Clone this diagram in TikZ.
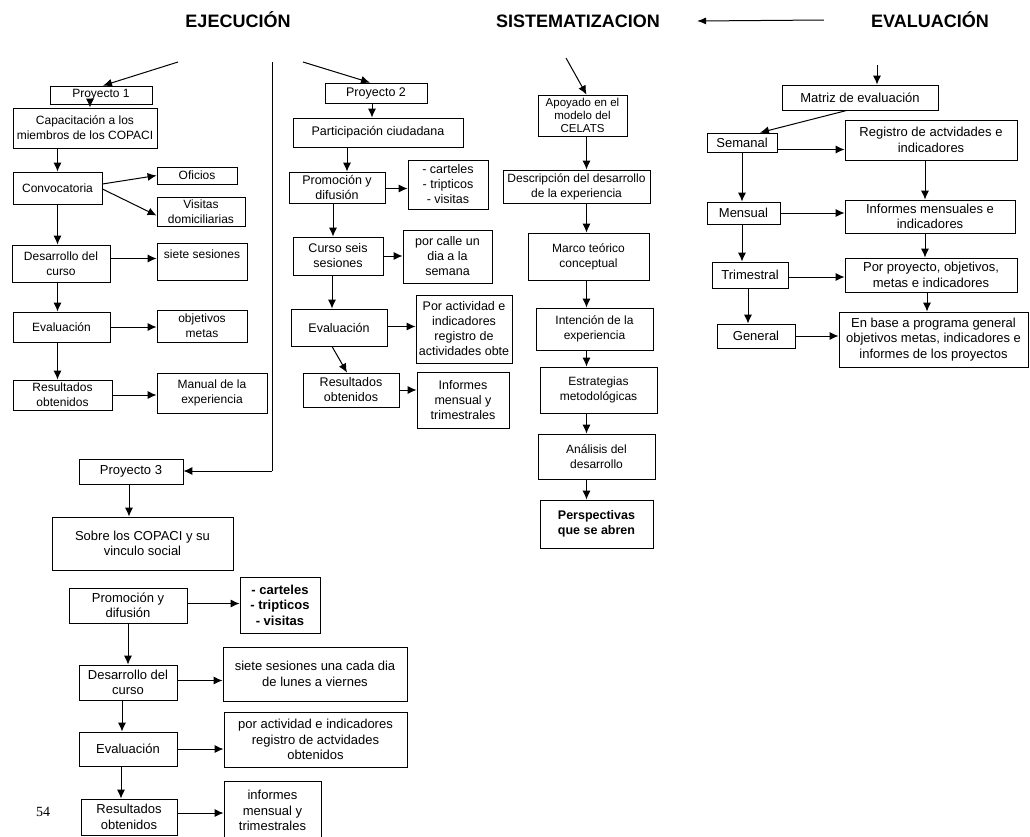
\documentclass[tikz,border=0pt]{standalone}
\usepackage{fontspec}
\setmainfont{Liberation Sans}
\newfontfamily\pagenumfont{Liberation Serif}
\usetikzlibrary{arrows.meta}
\tikzset{
  bx/.style={draw, line width=0.8pt, inner sep=0pt, align=center, font=\fontsize{12}{15}\selectfont},
  fA/.style={font=\fontsize{13}{15.5}\selectfont},
  fB/.style={font=\fontsize{12.5}{15}\selectfont},
  fC/.style={font=\fontsize{12}{15}\selectfont},
  fT/.style={font=\fontsize{11.5}{13}\selectfont},
  bbx/.style={font=\fontsize{13}{15.5}\selectfont\bfseries},
  bbc/.style={font=\fontsize{12.5}{15.5}\selectfont\bfseries},
  con/.style={line width=1pt, -{Latex[length=9pt,width=8pt]}},
  ttl/.style={font=\fontsize{18}{20}\selectfont\bfseries, inner sep=0pt},
}
\newcommand\mybox[7][]{%
  \pgfmathsetmacro\mybw{#5-#3}%
  \pgfmathsetmacro\mybh{#6-#4}%
  \pgfmathsetmacro\mycx{(#3+#5)/2}%
  \pgfmathsetmacro\mycy{(#4+#6)/2}%
  \node[bx,minimum width=\mybw pt,minimum height=\mybh pt,#1] (#2) at (\mycx,\mycy) {#7};}
\begin{document}
\begin{tikzpicture}[x=1pt,y=-1pt]
\useasboundingbox (0,0) rectangle (1030,836);
\fill[white] (0,0) rectangle (1030,836);

% titles
\node[ttl] (tEje) at (238,20) {EJECUCIÓN};
\node[ttl] (tSis) at (578,21) {SISTEMATIZACION};
\node[ttl] (tEva) at (930,20) {EVALUACIÓN};
\draw[line width=1pt, -{Latex[length=9pt,width=7pt]}] ([xshift=-47pt]tEva.west) -- ([xshift=37pt]tSis.east);

% ---------- column 1 ----------
\coordinate (a1) at (178,62);
\mybox{p1}{50}{86}{152}{104}{Proyecto 1}
\mybox{cap}{13}{108}{157}{148}{Capacitación a los\\miembros de los COPACI}
\mybox{conv}{13}{172}{102}{204}{Convocatoria}
\mybox{ofi}{157}{167}{237}{184}{Oficios}
\mybox{vis}{157}{197}{245}{226}{Visitas\\domiciliarias}
\mybox{des1}{12}{245}{110}{282}{Desarrollo del\\curso}
\mybox{ses1}{157}{243}{247}{280}{siete sesiones\\\mbox{}}
\mybox{eva1}{13}{312}{110}{342}{Evaluación}
\mybox{obj}{157}{310}{247}{342}{objetivos\\metas}
\mybox{res1}{13}{380}{112}{410}{Resultados\\obtenidos}
\mybox{man}{157}{373}{267}{413}{Manual de la\\experiencia}

\draw[con] (a1) -- ([xshift=2pt]p1.north);
\draw[con] ([xshift=-11pt]p1.south) -- ([xshift=-11pt]p1.south |- cap.north);
\draw[con] (conv.north |- cap.south) -- (conv.north);
\draw[con] ([yshift=4pt]conv.east) -- (ofi.west);
\draw[con] ([yshift=-1pt]conv.east) -- ([yshift=-4pt]vis.west);
\draw[con] (conv.south) -- (conv.south |- des1.north);
\draw[con] ([yshift=5pt]des1.east) -- ([yshift=5pt]des1.east -| ses1.west);
\draw[con] (conv.south |- des1.south) -- (conv.south |- eva1.north);
\draw[con] (eva1.east) -- (eva1.east -| obj.west);
\draw[con] (conv.south |- eva1.south) -- (conv.south |- res1.north);
\draw[con] (res1.east) -- (res1.east -| man.west);

% divider and proyecto 3
\coordinate (dtop) at (272,62);
\coordinate (dbot) at (272,471);
\mybox[fA]{p3}{79}{459}{183}{484}{Proyecto 3}
\draw[line width=0.8pt] (dtop) -- (dbot);
\draw[con] (dbot) -- (dbot -| p3.east);

\mybox[fA]{sob}{52}{517}{233}{570}{Sobre los COPACI y su\\vinculo social}
\mybox[fA]{pro3}{69}{588}{187}{623}{Promoción y\\difusión}
\mybox[bbx]{car3}{240}{577}{320}{633}{- carteles\\- tripticos\\- visitas}
\mybox[fA]{des3}{79}{665}{177}{700}{Desarrollo del\\curso}
\mybox[fA]{ses3}{223}{647}{407}{701}{siete sesiones una cada dia\\de lunes a viernes}
\mybox[fA]{eva3}{79}{732}{177}{766}{Evaluación}
\mybox[fA]{act3}{224}{712}{407}{767}{por actividad e indicadores\\registro de actvidades\\obtenidos}
\mybox[fA]{res3}{81}{799}{177}{835}{Resultados\\obtenidos}
\mybox[fA]{inf3}{224}{781}{321}{840}{informes\\mensual y\\trimestrales}

\draw[con] ([xshift=-2pt]p3.south) -- ([xshift=-2pt]p3.south |- sob.north);
\draw[con] ([yshift=2pt]pro3.east) -- ([yshift=2pt]pro3.east -| car3.west);
\draw[con] (pro3.south) -- (pro3.south |- des3.north);
\draw[con] ([yshift=2pt]des3.east) -- ([yshift=2pt]des3.east -| ses3.west);
\draw[con] ([xshift=-6pt]des3.south) -- ([xshift=-6pt]des3.south |- eva3.north);
\draw[con] (eva3.east) -- (eva3.east -| act3.west);
\draw[con] ([xshift=-7pt]eva3.south) -- ([xshift=-7pt]eva3.south |- res3.north);
\draw[con] ([yshift=4pt]res3.east) -- ([yshift=4pt]res3.east -| inf3.west);

\node[font=\pagenumfont\fontsize{14}{16}\selectfont, inner sep=0pt] (pn) at (43,812) {54};

% ---------- column 2 ----------
\coordinate (a2) at (303,62);
\mybox[fB]{p2}{325}{83}{427}{103}{Proyecto 2}
\mybox[fB]{par}{293}{118}{463}{147}{Participación ciudadana}
\mybox[fB]{pro2}{289}{172}{385}{203}{Promoción y\\difusión}
\mybox[fB]{car2}{408}{160}{488}{209}{- carteles\\- tripticos\\- visitas}
\mybox[fB]{cur}{293}{237}{383}{275}{Curso seis\\sesiones}
\mybox[fB]{cal}{403}{230}{492}{283}{por calle un\\dia a la\\semana}
\mybox[fB]{eva2}{291}{309}{387}{346}{Evaluación}
\mybox[fB]{act2}{416}{295}{512}{363}{Por actividad e\\indicadores\\registro de\\actividades obte}
\mybox[fB]{res2}{303}{373}{399}{407}{Resultados\\obtenidos}
\mybox[fB]{inf2}{417}{372}{509}{428}{Informes\\mensual y\\trimestrales}

\draw[con] (a2) -- ([xshift=-6pt]p2.north);
\draw[con] ([xshift=-4pt]p2.south) -- ([xshift=-4pt]p2.south |- par.north);
\draw[con] ([xshift=10pt]pro2.north |- par.south) -- ([xshift=10pt]pro2.north);
\draw[con] ([yshift=-1pt]pro2.east) -- ([yshift=-1pt]pro2.east -| car2.west);
\draw[con] ([xshift=-4pt]pro2.south) -- ([xshift=-4pt]pro2.south |- cur.north);
\draw[con] (cur.east) -- (cur.east -| cal.west);
\draw[con] ([xshift=-6pt]cur.south) -- ([xshift=-6pt]cur.south |- eva2.north);
\draw[con] ([yshift=1pt]eva2.east) -- ([yshift=1pt]eva2.east -| act2.west);
\draw[con] ([xshift=-7pt]eva2.south) -- ([xshift=-4pt]res2.north);
\draw[con] (res2.east) -- (res2.east -| inf2.west);

% ---------- column 3 ----------
\coordinate (a3) at (566,58);
\mybox[fT]{apo}{538}{95}{627}{136}{Apoyado en el\\modelo del\\CELATS}
\mybox[fC]{desc}{503}{170}{650}{203}{Descripción del desarrollo\\de la experiencia}
\mybox[fC]{marco}{528}{233}{649}{280}{Marco teórico\\conceptual}
\mybox[fC]{int}{536}{308}{653}{350}{Intención de la\\experiencia}
\mybox[fC]{est}{540}{367}{657}{413}{Estrategias\\metodológicas}
\mybox[fC]{ana}{538}{434}{655}{479}{Análisis del\\desarrollo}
\mybox[bbc]{per}{540}{500}{653}{548}{Perspectivas\\que se abren}

\draw[con] (a3) -- ([xshift=4pt]apo.north);
\draw[con] ([xshift=4pt]apo.south) -- ([xshift=4pt]apo.south |- desc.north);
\draw[con] ([xshift=4pt]apo.south |- desc.south) -- ([xshift=4pt]apo.south |- marco.north);
\draw[con] ([xshift=4pt]apo.south |- marco.south) -- ([xshift=4pt]apo.south |- int.north);
\draw[con] ([xshift=4pt]apo.south |- int.south) -- ([xshift=4pt]apo.south |- est.north);
\draw[con] ([xshift=4pt]apo.south |- est.south) -- ([xshift=4pt]apo.south |- ana.north);
\draw[con] ([xshift=4pt]apo.south |- ana.south) -- ([xshift=4pt]apo.south |- per.north);

% ---------- column 4 ----------
\coordinate (a4) at (877,65);
\mybox[fA]{matriz}{782}{85}{938}{110}{Matriz de evaluación}
\mybox[fA]{sem}{707}{133}{777}{152}{Semanal}
\mybox[fA]{reg}{845}{120}{1017}{160}{Registro de actvidades e\\indicadores}
\mybox[fA]{mens}{707}{202}{780}{224}{Mensual}
\mybox[fA]{infm}{845}{200}{1015}{233}{Informes mensuales e\\indicadores}
\mybox[fA]{tri}{712}{262}{788}{288}{Trimestral}
\mybox[fA]{porp}{845}{258}{1017}{292}{Por proyecto, objetivos,\\metas e indicadores}
\mybox[fA]{gen}{717}{324}{795}{348}{General}
\mybox[fA]{enb}{839}{312}{1028}{367}{En base a programa general\\objetivos  metas, indicadores e\\informes de los proyectos}

\draw[con] (a4) -- (a4 |- matriz.north);
\draw[con] ([xshift=-13pt]matriz.south) -- ([xshift=18pt]sem.north);
\draw[con] ([yshift=-7pt]sem.east) -- ([yshift=-7pt]sem.east -| reg.west);
\draw[con] (sem.south) -- (sem.south |- mens.north);
\draw[con] ([xshift=-6pt]reg.south) -- ([xshift=-6pt]reg.south |- infm.north);
\draw[con] (mens.east) -- (mens.east -| infm.west);
\draw[con] (sem.south |- mens.south) -- (sem.south |- tri.north);
\draw[con] ([xshift=-6pt]reg.south |- infm.south) -- ([xshift=-6pt]reg.south |- porp.north);
\draw[con] ([yshift=-2pt]tri.east) -- ([yshift=-2pt]tri.east -| porp.west);
\draw[con] ([xshift=-2pt]tri.south) -- ([xshift=-2pt]tri.south |- gen.north);
\draw[con] ([xshift=-4pt]porp.south) -- ([xshift=-4pt]porp.south |- enb.north);
\draw[con] (gen.east) -- (gen.east -| enb.west);
\end{tikzpicture}
\end{document}
